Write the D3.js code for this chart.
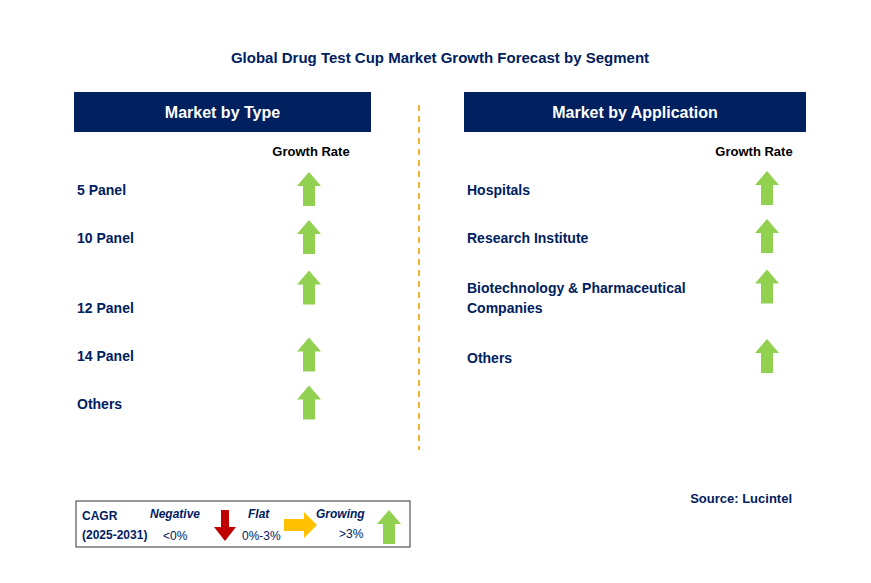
<!DOCTYPE html>
<html><head><meta charset="utf-8">
<script src="https://cdn.jsdelivr.net/npm/d3@7"></script>
<style>body{margin:0;background:#fff}text{font-family:Arial,"Liberation Sans",sans-serif}</style>
</head><body>
<svg id="c" width="871" height="583"></svg>
<script>
var typeLabels = ["5 Panel", "10 Panel", "12 Panel", "14 Panel", "Others"];
var typeGrowth = ["up", "up", "up", "up", "up"];
var typeArrowOffset = [0, 0, -0.4, 0, 0];   // 12 Panel arrow sits above its label
var appLabels = [["Hospitals"], ["Research Institute"], ["Biotechnology & Pharmaceutical", "Companies"], ["Others"]];
var appGrowth = ["up", "up", "up", "up"];
var appSlots = [0, 1, 2.05, 3.5];

var svg = d3.select("#c");
var navy = "#002060", green = "#92d050";

svg.append("text").attr("x", 440).attr("y", 63).attr("text-anchor", "middle")
  .attr("font-size", 15).attr("font-weight", "bold").attr("fill", navy)
  .text("Global Drug Test Cup Market Growth Forecast by Segment");

function arrowUp(g, cx, cy) {
  g.append("path").attr("fill", green)
    .attr("d", d3.line()([[cx, cy - 17], [cx + 12, cy - 3], [cx + 6, cy - 3], [cx + 6, cy + 17],
      [cx - 6, cy + 17], [cx - 6, cy - 3], [cx - 12, cy - 3]]) + "Z");
}

function panel(x0, x1, title, arrowX) {
  svg.append("rect").attr("x", x0).attr("y", 92).attr("width", x1 - x0).attr("height", 40).attr("fill", navy);
  svg.append("text").attr("x", (x0 + x1) / 2).attr("y", 118).attr("text-anchor", "middle")
    .attr("fill", "#fff").attr("font-size", 16).attr("font-weight", "bold").text(title);
  svg.append("text").attr("x", arrowX).attr("y", 156).attr("text-anchor", "middle")
    .attr("fill", "#000").attr("font-size", 13).attr("font-weight", "bold").text("Growth Rate");
}

// rows: slot index -> y of label baseline
var rowY = d3.scaleLinear().domain([0, 1]).range([195, 243]);

panel(74, 371, "Market by Type", 311);
var gl = svg.append("g");
typeLabels.forEach(function (d, i) {
  var slot = i < 2 ? i : i + 0.45;
  gl.append("text").attr("x", 77).attr("y", rowY(slot)).attr("font-size", 14)
    .attr("font-weight", "bold").attr("fill", navy).text(d);
  if (typeGrowth[i] === "up") arrowUp(gl, 309, rowY(slot + typeArrowOffset[i]) - 6);
});

panel(464, 806, "Market by Application", 754);
var gr = svg.append("g");
appLabels.forEach(function (lines, i) {
  var y = rowY(appSlots[i]);
  lines.forEach(function (l, k) {
    gr.append("text").attr("x", 467).attr("y", y + k * 20).attr("font-size", 14)
      .attr("font-weight", "bold").attr("fill", navy).text(l);
  });
  if (appGrowth[i] === "up") arrowUp(gr, 767, y - 7 + (lines.length - 1) * 0);
});

svg.append("line").attr("x1", 419).attr("x2", 419).attr("y1", 105).attr("y2", 450)
  .attr("stroke", "#f5b335").attr("stroke-width", 2).attr("stroke-dasharray", "6,5");

svg.append("text").attr("x", 792).attr("y", 503).attr("text-anchor", "end").attr("font-size", 13)
  .attr("font-weight", "bold").attr("fill", navy).text("Source: Lucintel");

// legend
var lg = svg.append("g");
lg.append("rect").attr("x", 76).attr("y", 501).attr("width", 334).attr("height", 46)
  .attr("fill", "#fff").attr("stroke", "#555").attr("stroke-width", 1.2);
function t(x, y, s, opt) {
  var e = lg.append("text").attr("x", x).attr("y", y).attr("font-size", 12).attr("fill", navy).text(s);
  if (opt) { e.attr("font-weight", "bold"); if (opt === 2) e.attr("font-style", "italic"); }
  return e;
}
t(82, 520, "CAGR", 1); t(82, 539, "(2025-2031)", 1);
t(150, 518, "Negative", 2); t(163, 540, "<0%");
t(248, 518, "Flat", 2); t(242, 540, "0%-3%");
t(316, 518, "Growing", 2); t(339, 538, ">3%");
lg.append("path").attr("fill", "#c00000")
  .attr("d", d3.line()([[221, 510], [229, 510], [229, 527], [236, 527], [225, 541], [214, 527], [221, 527]]) + "Z");
lg.append("path").attr("fill", "#ffc000")
  .attr("d", d3.line()([[284, 519], [304, 519], [304, 512], [317, 525], [304, 538], [304, 531], [284, 531]]) + "Z");
arrowUp(lg, 389, 527);
</script>
</body></html>
